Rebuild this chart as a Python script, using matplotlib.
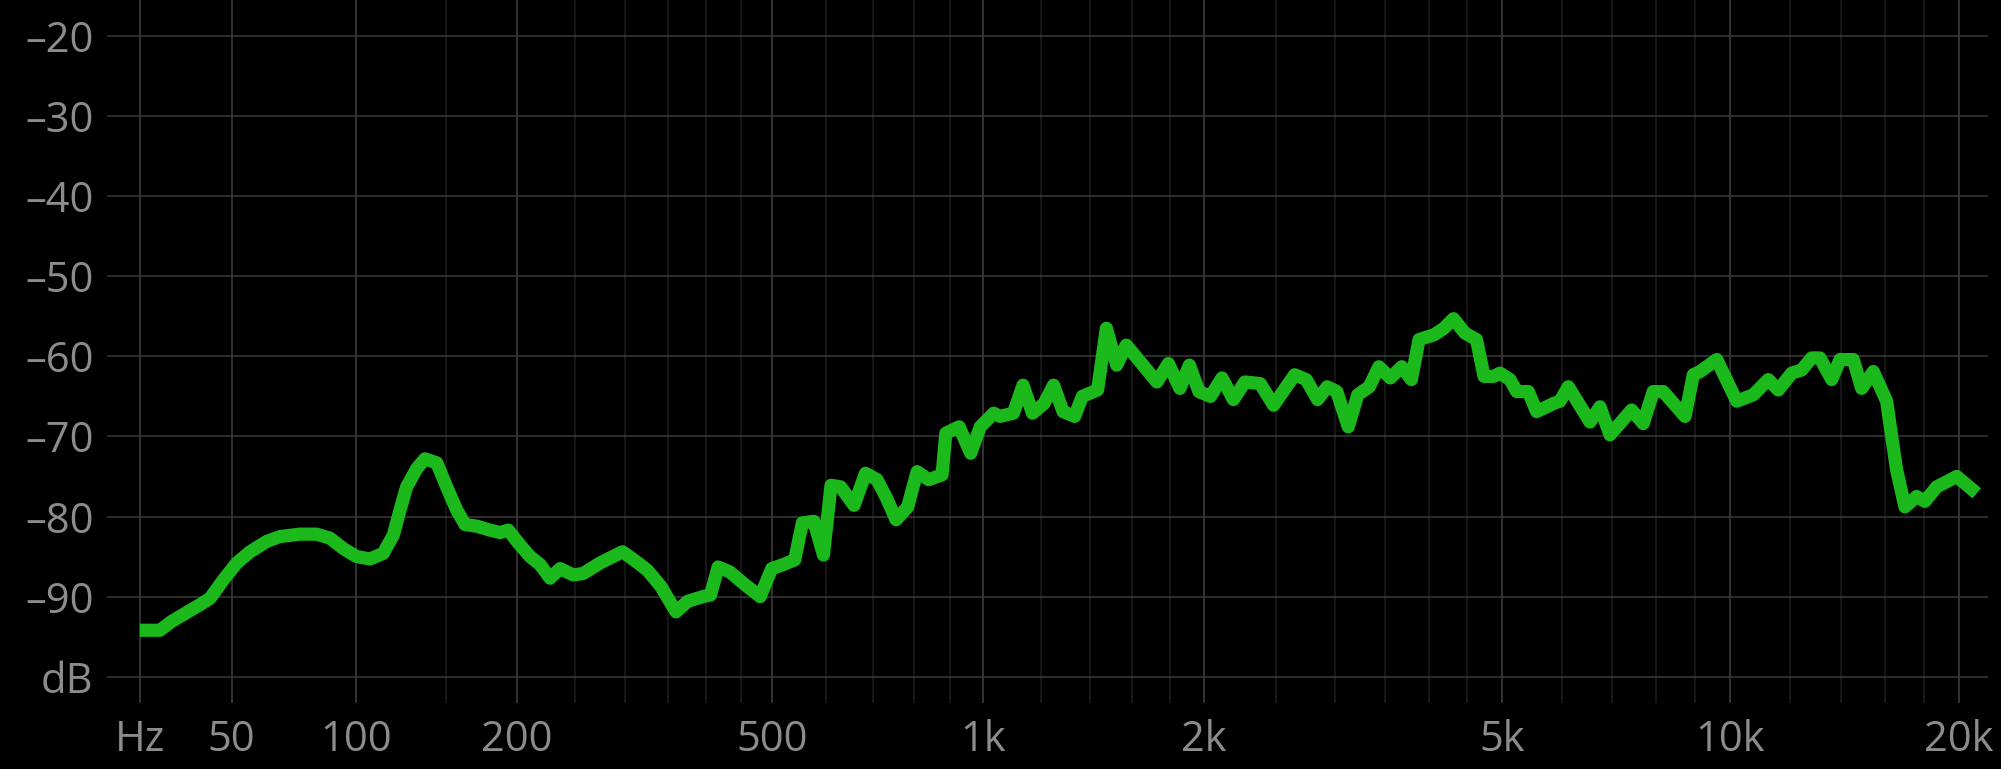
import numpy as np
import matplotlib
matplotlib.use("Agg")
import matplotlib.pyplot as plt

# ---------------- data ----------------
freq_hz = [
    23.4, 28.6, 31.8, 40, 43.1, 47.3, 51.7, 56.3, 62.3, 67.3, 75.2, 82.1, 87.9, 94.0,
    100.3, 106.9, 113.7, 119.1, 122.7, 126.4, 132.2, 137.0, 144.1, 150.3, 156.8, 162.3,
    170.2, 179.7, 187.0, 193.2, 201.0, 210.4, 218.7, 227.2, 236.0, 248.1, 257.5, 273.9,
    297.3, 312.0, 325.0, 340.9, 359.8, 374.6, 395.1, 405.8, 416.6, 433.4, 456.7, 481.1,
    500.2, 520.0, 540.4, 554.3, 576.0, 594.7, 609.8, 629.5, 657.9, 683.2, 709.4, 731.8,
    755.0, 783.8, 808.3, 838.9, 876.0, 886.7, 925.6, 960.4, 990.3, 1033.6,
    1054.5, 1100.5, 1134.6, 1169.3, 1212.6, 1250.0, 1288.0, 1335.5, 1368.3, 1435.7,
    1475.9, 1524.3, 1570.8, 1647.8, 1728.4, 1791.5, 1856.8, 1912.5, 1970.4, 2042.0,
    2116.1, 2192.2, 2271.6, 2381.7, 2482.3, 2649.2, 2744.8, 2842.8, 2928.0, 3015.7,
    3124.1, 3216.6, 3332.1, 3431.6, 3554.8, 3681.1, 3790.9, 3881.3, 4067.4, 4187.2,
    4311.9, 4466.0, 4625.6, 4734.2, 4874.9,
    4970, 5124, 5230, 5418, 5558, 5847, 5967, 6120, 6538, 6739, 6947, 7419, 7685, 7922,
    8166, 8726, 8948, 9132, 9607, 10207, 10733, 11232, 11578, 12057, 12428, 12810, 13136,
    13609, 13956, 14528, 14902, 15434, 16072, 16317, 16566, 16987, 17598, 18045, 18695,
    19866, 21103,
]
level_db = [
    -94.2, -94.2, -93.1, -91.0, -90.2, -87.9, -85.8, -84.4, -83.1, -82.5, -82.2, -82.2, -82.7, -84.0,
    -85.0, -85.3, -84.6, -82.3, -79.2, -76.3, -74.0, -72.8, -73.3, -76.3, -79.2, -81.0,
    -81.2, -81.7, -82.0, -81.7, -83.3, -85.0, -86.0, -87.7, -86.5, -87.3, -87.1, -85.8,
    -84.4, -85.6, -86.7, -88.7, -91.9, -90.6, -90.0, -89.8, -86.3, -86.9, -88.5, -90.0,
    -86.5, -86.0, -85.4, -80.8, -80.6, -84.8, -76.1, -76.3, -78.6, -74.6, -75.4, -77.7,
    -80.4, -78.8, -74.4, -75.4, -74.8, -69.6, -68.8, -72.1, -68.8, -67.1,
    -67.5, -67.1, -63.6, -67.1, -65.9, -63.6, -66.9, -67.5, -65.0, -64.2,
    -56.5, -61.1, -58.6, -60.9, -63.2, -60.9, -64.0, -61.1, -64.4, -65.0,
    -62.7, -65.4, -63.2, -63.4, -66.1, -62.3, -62.9, -65.4, -63.8, -64.4,
    -68.8, -64.8, -63.8, -61.3, -62.7, -61.3, -62.9, -57.9, -57.3, -56.5,
    -55.3, -57.1, -57.9, -62.5, -62.5,
    -62.1, -62.9, -64.4, -64.4, -66.9, -65.9, -65.6, -63.8, -68.2, -66.3, -69.8, -66.7, -68.4, -64.4,
    -64.4, -67.5, -62.3, -61.9, -60.4, -65.6, -64.8, -62.9, -64.2, -62.1, -61.7, -60.2, -60.2,
    -62.9, -60.4, -60.4, -64.0, -61.9, -65.6, -70.0, -74.2, -78.8, -77.5, -78.1, -76.3,
    -75.0, -77.1,
]

x_major = [23.4, 50, 100, 200, 500, 1000, 2000, 5000, 10000, 20000]
x_major_labels = ["Hz", "50", "100", "200", "500", "1k", "2k", "5k", "10k", "20k"]
x_minor = [150, 250, 300, 350, 400, 450, 600, 700, 800, 900,
           1200, 1400, 1600, 1800, 2500, 3000, 3500, 4000, 4500,
           6000, 7000, 8000, 9000, 12000, 14000, 16000, 18000]
y_ticks = [-20, -30, -40, -50, -60, -70, -80, -90, -100]
y_labels = ["\u201320", "\u201330", "\u201340", "\u201350", "\u201360",
            "\u201370", "\u201380", "\u201390", "dB"]

# ---------------- figure ----------------
W, H = 2001, 769
fig = plt.figure(figsize=(W / 100, H / 100), dpi=100, facecolor="black")
ax = fig.add_axes([107 / W, (H - 703.3) / H, (1988 - 107) / W, 703.3 / H])
ax.set_facecolor("black")

OFF = 60.0
def fwd(f):
    return np.log10(np.maximum(np.asarray(f, dtype=float) + OFF, 1e-9))
def inv(u):
    return 10.0 ** np.asarray(u, dtype=float) - OFF

ax.set_xscale("function", functions=(fwd, inv))
ax.set_xlim(15.55, 21835)
ax.set_ylim(-103.32, -15.51)

for s in ax.spines.values():
    s.set_visible(False)

ax.set_xticks(x_major)
ax.set_xticklabels(x_major_labels)
ax.set_xticks(x_minor, minor=True)
ax.set_yticks(y_ticks)
ax.set_yticklabels(y_labels)

ax.tick_params(axis="both", which="both", length=0)
ax.tick_params(axis="x", pad=11)
ax.tick_params(axis="y", pad=9.7)
for lab in ax.get_xticklabels() + ax.get_yticklabels():
    lab.set_fontfamily(["Open Sans", "DejaVu Sans"])
    lab.set_fontsize(30)
    lab.set_color("#8c8c8c")

ax.grid(True, axis="y", which="major", color="#3a3a3a", linewidth=1.1)
ax.grid(True, axis="x", which="major", color="#404040", linewidth=1.1)
ax.grid(True, axis="x", which="minor", color="#1e1e1e", linewidth=1.1)
ax.set_axisbelow(True)

ax.plot(freq_hz, level_db, color="#1cb91c", linewidth=9.5,
        solid_joinstyle="round", solid_capstyle="butt", clip_on=False)

fig.savefig("out.png", dpi=100, facecolor="black")
